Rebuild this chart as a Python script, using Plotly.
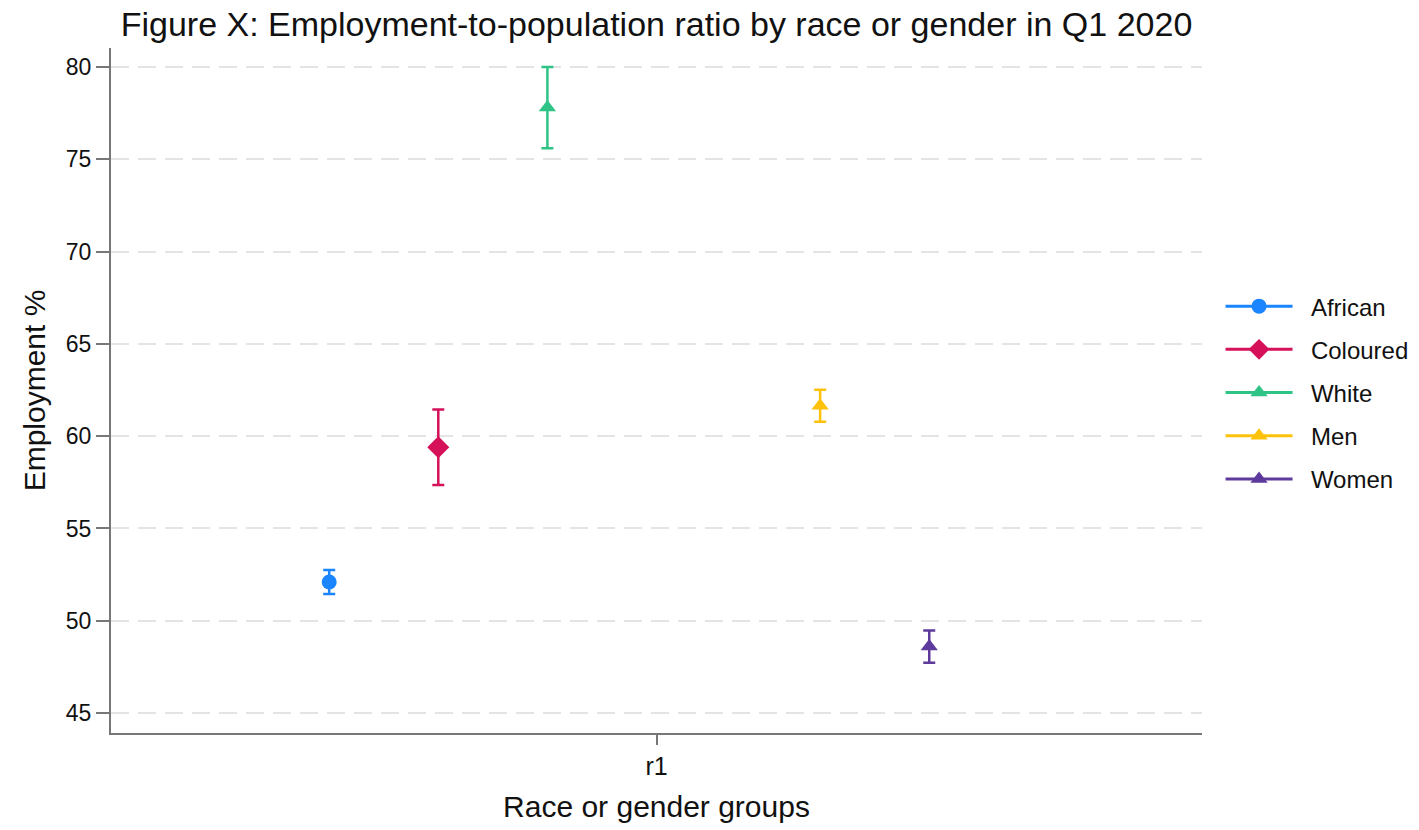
import plotly.graph_objects as go

# Employment-to-population ratio, Q1 2020, with 95% confidence intervals
groups = ["African", "Coloured", "White", "Men", "Women"]
estimates = [52.1, 59.4, 77.8, 61.65, 48.6]
ci_half = [0.65, 2.05, 2.2, 0.87, 0.87]
category = "r1"

# Horizontal dodge of each group around the single category
dodge = [-0.30, -0.20, -0.10, 0.15, 0.25]
colors = ["#1a85ff", "#d41159", "#2fc486", "#ffc20a", "#5d3a9b"]
symbols = ["circle", "diamond", "triangle-up", "triangle-up", "triangle-up"]
sizes = [15, 17, 15, 15, 15]

FONT = "Liberation Sans, Arial, Helvetica, sans-serif"
INK = "#111111"
AXIS = "#777777"
PAD = "\u00a0\u00a0"  # small gap between legend key and label

fig = go.Figure()
for name, est, ci, dx, col, sym, sz in zip(groups, estimates, ci_half, dodge, colors, symbols, sizes):
    fig.add_trace(go.Scatter(
        x=[1 + dx], y=[est], name=PAD + name, mode="lines+markers",
        legendgroup=name,
        marker=dict(symbol=sym, size=sz, color=col, line=dict(width=0)),
        line=dict(color=col, width=3),
        error_y=dict(type="data", array=[ci], color=col, thickness=2.5, width=6, visible=True),
    ))

fig.update_layout(
    width=1419, height=830,
    margin=dict(l=111, r=217, t=48, b=97, autoexpand=False),
    paper_bgcolor="white", plot_bgcolor="white",
    font=dict(family=FONT, color=INK),
    title=dict(text="Figure X: Employment-to-population ratio by race or gender in Q1 2020",
               x=0.5, xref="paper", xanchor="center", y=1 - 24 / 830, yref="container", yanchor="middle",
               font=dict(size=34, family=FONT, color=INK)),
    showlegend=True,
    legend=dict(x=1.017, xanchor="left", y=0.497, yanchor="middle", xref="paper", yref="paper",
                font=dict(size=24, family=FONT, color=INK),
                itemwidth=67, traceorder="grouped", tracegroupgap=9,
                bgcolor="rgba(0,0,0,0)"),
)

fig.update_xaxes(
    range=[0.5, 1.5], tickmode="array", tickvals=[1], ticktext=[category],
    showgrid=False, zeroline=False,
    showline=True, linecolor=AXIS, linewidth=2,
    ticks="outside", ticklen=10, tickwidth=2, tickcolor=AXIS,
    tickfont=dict(size=25, family=FONT, color=INK),
    title=dict(text="Race or gender groups", font=dict(size=30, family=FONT, color=INK), standoff=17),
)
fig.update_yaxes(
    range=[43.92, 81.03], tick0=45, dtick=5,
    showgrid=True, gridcolor="#e4e4e4", gridwidth=1.5, griddash="18px,9px",
    zeroline=False,
    showline=True, linecolor=AXIS, linewidth=2,
    ticks="outside", ticklen=13, tickwidth=2, tickcolor=AXIS,
    tickfont=dict(size=23, family=FONT, color=INK),
    title=dict(text="Employment %", font=dict(size=30, family=FONT, color=INK), standoff=11),
)

fig.write_html("out.html")
